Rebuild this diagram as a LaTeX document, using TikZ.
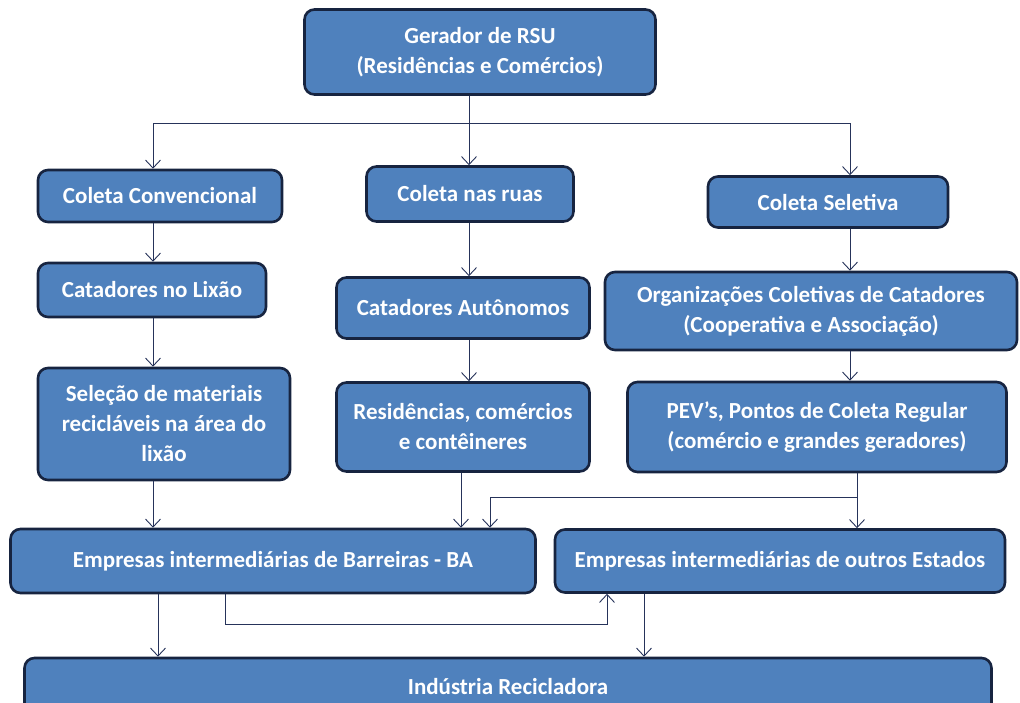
\documentclass[tikz,border=0pt]{standalone}
\usepackage{fontspec}
\setmainfont{Carlito}
\usepackage{xcolor}
\usepackage{tikz}
\usetikzlibrary{arrows.meta,positioning,calc}

\definecolor{boxfill}{HTML}{4F81BD}
\definecolor{boxline}{HTML}{172440}
\definecolor{linkcol}{HTML}{26335A}

\begin{document}
\begin{tikzpicture}[
  x=1pt, y=-1pt,
  every node/.style={font=\fontsize{23}{30}\selectfont\bfseries},
  box/.style={draw=boxline, line width=2.6pt, fill=boxfill, rounded corners=10pt,
    text=white, align=center, inner sep=2pt},
  link/.style={draw=linkcol, line width=0.9pt},
  arr/.style={link, -{Straight Barb[length=8pt,width=15pt,line width=0.9pt]}}
]
\useasboundingbox (0,0) rectangle (1020,702);

% Top
\node[box, minimum width=351pt, minimum height=85pt] (gerador) at (480,52) {Gerador de RSU\\(Residências e Comércios)};

% Collection types
\node[box, minimum width=244pt, minimum height=52pt] (convencional) at (160,196) {Coleta Convencional};
\node[box, minimum width=207pt, minimum height=55pt] (ruas) at (470,194) {Coleta nas ruas};
\node[box, minimum width=240pt, minimum height=51pt] (seletiva) at (828,202) {Coleta Seletiva};

% Pickers
\node[box, minimum width=228pt, minimum height=54pt] (lixao) at (152,290) {Catadores no Lixão};
\node[box, minimum width=253pt, minimum height=61pt] (autonomos) at (463,308) {Catadores Autônomos};
\node[box, minimum width=412pt, minimum height=78pt] (organizacoes) at (811,311) {Organizações Coletivas de Catadores\\(Cooperativa e Associação)};

% Sources
\node[box, minimum width=252pt, minimum height=112pt] (selecao) at (164,424) {Seleção de materiais\\recicláveis na área do\\lixão};
\node[box, minimum width=253pt, minimum height=89pt] (residencias) at (463,427) {Residências, comércios\\e contêineres};
\node[box, minimum width=379pt, minimum height=90pt] (pev) at (817,427) {PEV’s, Pontos de Coleta Regular\\(comércio e grandes geradores)};

% Intermediaries
\node[box, minimum width=525pt, minimum height=64pt] (barreiras) at (273,561) {Empresas intermediárias de Barreiras - BA};
\node[box, minimum width=450pt, minimum height=63pt] (estados) at (780,561) {Empresas intermediárias de outros Estados};

% Industry
\node[box, minimum width=967pt, minimum height=58pt] (industria) at (508,687) {Indústria Recicladora};

% Column positions
\coordinate (c1) at (153,0);
\coordinate (c2) at (469,0);
\coordinate (c3) at (850,0);
\coordinate (split) at (469,123);
\coordinate (junction) at (857,497);
\coordinate (loop) at (225,624);

% Connectors
\draw[link] (gerador.south -| split) -- (split);
\draw[arr] (split) -- (ruas.north -| split);
\draw[arr] (split) -| (convencional.north -| c1);
\draw[arr] (split) -| (seletiva.north -| c3);

\draw[arr] (convencional.south -| c1) -- (lixao.north -| c1);
\draw[arr] (lixao.south -| c1) -- (selecao.north -| c1);
\draw[arr] (selecao.south -| c1) -- (barreiras.north -| c1);

\draw[arr] (ruas.south -| c2) -- (autonomos.north -| c2);
\draw[arr] (autonomos.south -| c2) -- (residencias.north -| c2);
\draw[arr] ([xshift=-8pt]residencias.south -| c2) -- ([xshift=-8pt]barreiras.north -| c2);

\draw[arr] (seletiva.south -| c3) -- (organizacoes.north -| c3);
\draw[arr] (organizacoes.south -| c3) -- (pev.north -| c3);
\draw[link] (pev.south -| junction) -- (junction);
\draw[arr] (junction) -- (estados.north -| junction);
\draw[arr] (junction) -| ([xshift=21pt]barreiras.north -| c2);

\draw[arr] (barreiras.south -| loop) -- (loop) -| ([xshift=-173pt]estados.south);
\draw[arr] ([xshift=5pt]barreiras.south -| c1) -- ([xshift=5pt]industria.north -| c1);
\draw[arr] ([xshift=-136pt]estados.south) -- ([xshift=-136pt]estados.south |- industria.north);

\end{tikzpicture}
\end{document}
